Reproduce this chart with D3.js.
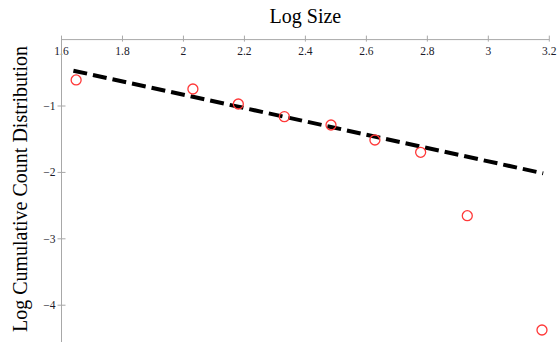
<!DOCTYPE html>
<html><head><meta charset="utf-8">
<script src="https://cdn.jsdelivr.net/npm/d3@7/dist/d3.min.js"></script>
<style>body{margin:0;background:#fff}svg{display:block}</style>
</head><body>
<script>
const logSize = [1.648, 2.031, 2.180, 2.331, 2.484, 2.628, 2.778, 2.931, 3.176];
const logCumCount = [-0.608, -0.744, -0.970, -1.161, -1.286, -1.512, -1.697, -2.652, -4.373];
const fitX = [1.639, 3.180];
const fitY = [-0.468, -2.014];
const xTicks = [1.6, 1.8, 2, 2.2, 2.4, 2.6, 2.8, 3, 3.2];
const xTickLabels = ["1.6", "1.8", "2", "2.2", "2.4", "2.6", "2.8", "3", "3.2"];
const yTicks = [-1, -2, -3, -4];
const yTickLabels = ["\u22121", "\u22122", "\u22123", "\u22124"];
const xTitle = "Log Size";
const yTitle = "Log Cumulative Count Distribution";

const W = 559, H = 342;
const svg = d3.select("body").append("svg").attr("width", W).attr("height", H);
const x = d3.scaleLinear().domain([1.6, 3.2]).range([61.5, 549.3]);
const y = d3.scaleLinear().domain([0, -4.554]).range([39.6, 342]);
const font = "'Liberation Serif','Times New Roman',serif";
const axisCol = "#a8a8a8";

// x axis
svg.append("line").attr("x1", x(1.6)).attr("x2", x(3.2)).attr("y1", y(0)).attr("y2", y(0))
  .attr("stroke", axisCol).attr("stroke-width", 1);
const xt = svg.append("g").selectAll("g").data(xTicks).join("g")
  .attr("transform", d => `translate(${x(d)},${y(0)})`);
xt.append("line").attr("y1", -4).attr("y2", 2).attr("stroke", axisCol);
xt.append("text").text((d, i) => xTickLabels[i]).attr("y", 15.5).attr("text-anchor", "middle")
  .attr("font-family", font).attr("font-size", 11.5).attr("fill", "#1a1a2a");

// y axis
svg.append("line").attr("x1", x(1.6)).attr("x2", x(1.6)).attr("y1", y(0)).attr("y2", H)
  .attr("stroke", axisCol).attr("stroke-width", 1);
const yt = svg.append("g").selectAll("g").data(yTicks).join("g")
  .attr("transform", d => `translate(${x(1.6)},${y(d)})`);
yt.append("line").attr("x1", -4).attr("x2", 4).attr("stroke", axisCol);
yt.append("text").text((d, i) => yTickLabels[i]).attr("x", -6).attr("dy", "0.35em")
  .attr("text-anchor", "end").attr("font-family", font).attr("font-size", 11.5).attr("fill", "#1a1a2a");

// titles
svg.append("text").text(xTitle).attr("x", x(2.4)).attr("y", 23).attr("text-anchor", "middle")
  .attr("font-family", font).attr("font-size", 20).attr("fill", "#000");
svg.append("text").text(yTitle).attr("transform", `translate(27,189) rotate(-90)`)
  .attr("text-anchor", "middle").attr("font-family", font).attr("font-size", 20).attr("fill", "#000");

// fit line
const line = d3.line().x(d => x(d[0])).y(d => y(d[1]));
svg.append("path").datum(fitX.map((v, i) => [v, fitY[i]])).attr("d", line)
  .attr("fill", "none").attr("stroke", "#000").attr("stroke-width", 4)
  .attr("stroke-dasharray", "14,6");

// points
svg.append("g").selectAll("circle").data(logSize).join("circle")
  .attr("cx", d => x(d)).attr("cy", (d, i) => y(logCumCount[i])).attr("r", 5)
  .attr("fill", "none").attr("stroke", "#ff3838").attr("stroke-width", 1.3);
</script>
</body></html>
